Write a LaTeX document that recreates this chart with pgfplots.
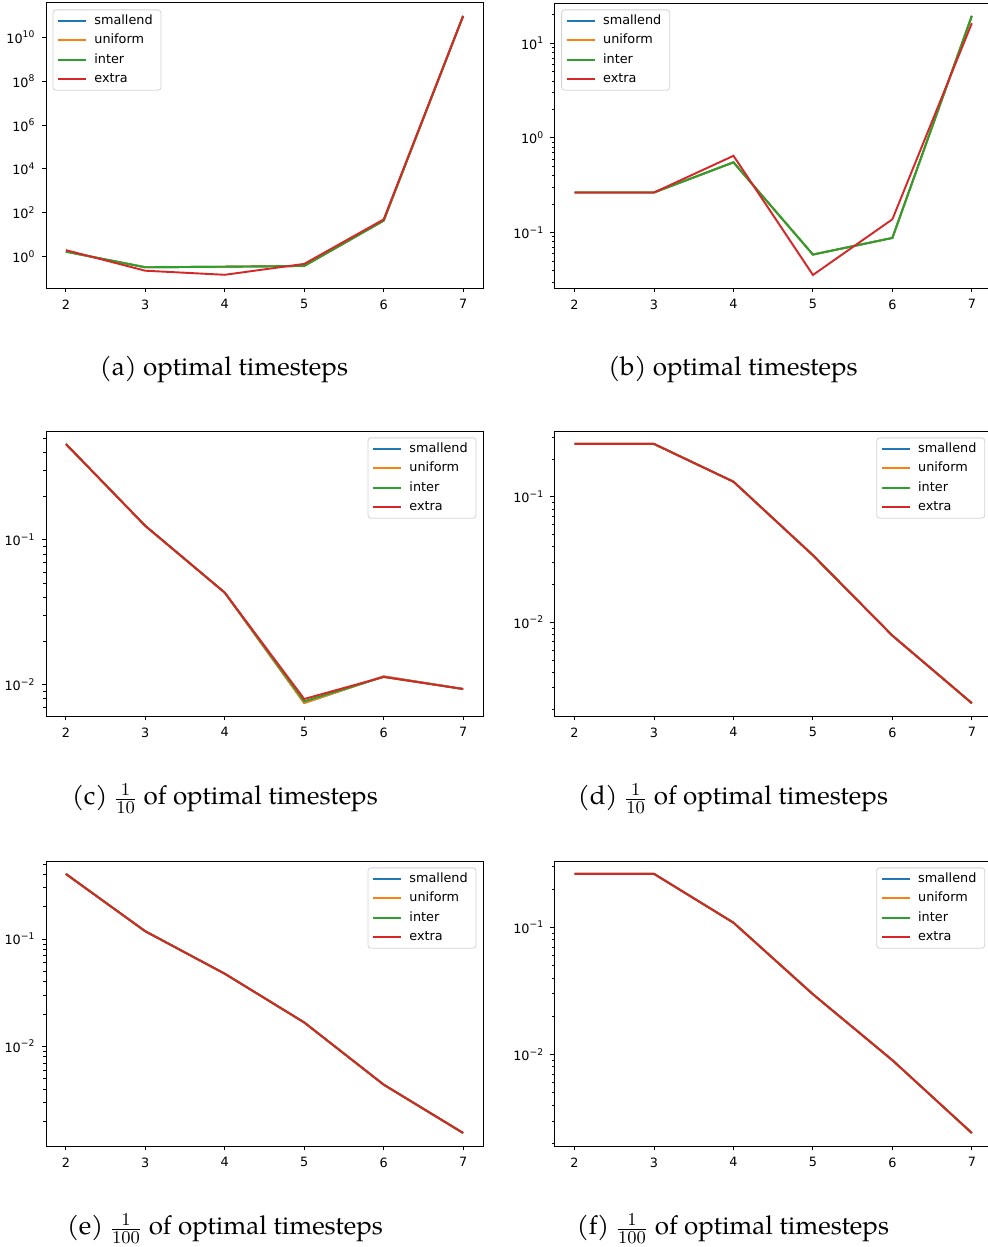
\documentclass[border=0pt]{standalone}
\usepackage{fontspec}
\setmainfont{TeX Gyre Pagella}
\newfontfamily\dejavu{DejaVu Sans}
\usepackage{pgfplots}
\pgfplotsset{compat=1.18}
\pgfkeys{/pgf/number format/assume math mode=true}
\definecolor{c0}{HTML}{1F77B4}
\definecolor{c1}{HTML}{FF7F0E}
\definecolor{c2}{HTML}{2CA02C}
\definecolor{c3}{HTML}{D62728}
\newcommand\tfont{\dejavu\fontsize{6.4}{7.7}\selectfont}
\newcommand\tp[1]{10\raisebox{2.7pt}{\fontsize{4.6}{5}\selectfont #1}}
\pgfplotsset{
  legend image code/.code={\draw[#1, line width=0.96pt] (0pt,0pt) -- (14pt,0pt); \path (15.6pt,0pt);},
  legUL/.style={legend style={at={(0.0149,0.9772)}, anchor=north west}},
  legUR/.style={legend style={at={(0.9851,0.9772)}, anchor=north east}},
  mpl/.style={
    scale only axis, width=218.5pt, height=142.5pt,
    xmin=1.75, xmax=7.25, xtick={2,3,4,5,6,7},
    tick align=outside, tick pos=left,
    major tick length=2.24pt, minor tick length=1.28pt,
    every major tick/.style={line width=0.51pt, black},
    every minor tick/.style={line width=0.38pt, black},
    axis line style={line width=0.48pt},
    tick label style={font=\tfont},
    legend cell align=left,
    legend style={font=\tfont, draw=black!17, rounded corners=1.5pt,
      fill=white, fill opacity=0.8, text opacity=1, draw opacity=1,
      inner xsep=2pt, inner ysep=1.5pt, row sep=1.45pt,
      nodes={inner xsep=2.2pt, inner ysep=1pt, text height=4.9pt, text depth=1.3pt}},
    every axis plot/.append style={line width=0.96pt},
  }
}
\begin{document}
\begin{tikzpicture}
\useasboundingbox (0,0) rectangle (494pt,623.5pt);
\clip (0,0) rectangle (494pt,623.5pt);
% (a)
\begin{axis}[ymode=log, mpl, legUL, at={(23pt,479.5pt)}, anchor=south west,
  ymin=0.0376, ymax=3.63e11,
  ytick={1,1e2,1e4,1e6,1e8,1e10}, minor ytick={},
  yticklabels={\tp{0},\tp{2},\tp{4},\tp{6},\tp{8},\tp{10}}]
\addplot[c0] coordinates {(2,1.7)(3,0.33)(4,0.35)(5,0.38)(6,44)(7,9.3e10)};
\addplot[c1] coordinates {(2,1.7)(3,0.33)(4,0.35)(5,0.38)(6,44)(7,9.3e10)};
\addplot[c2] coordinates {(2,1.7)(3,0.33)(4,0.35)(5,0.38)(6,44)(7,9.3e10)};
\addplot[c3] coordinates {(2,2.0)(3,0.23)(4,0.15)(5,0.47)(6,50)(7,9.3e10)};
\legend{smallend,uniform,inter,extra}
\end{axis}
% (b)
\begin{axis}[ymode=log, mpl, legUL, at={(277.35pt,479.5pt)}, anchor=south west,
  ymin=0.02594, ymax=26.67,
  ytick={0.1,1,10}, yticklabels={\tp{−1},\tp{0},\tp{1}},
  minor ytick={0.03,0.04,0.05,0.06,0.07,0.08,0.09,0.2,0.3,0.4,0.5,0.6,0.7,0.8,0.9,2,3,4,5,6,7,8,9,20}]
\addplot[c0] coordinates {(2,0.265)(3,0.265)(4,0.552)(5,0.0585)(6,0.0877)(7,19.5)};
\addplot[c1] coordinates {(2,0.265)(3,0.265)(4,0.552)(5,0.0585)(6,0.0877)(7,19.5)};
\addplot[c2] coordinates {(2,0.265)(3,0.265)(4,0.552)(5,0.0585)(6,0.0877)(7,19.5)};
\addplot[c3] coordinates {(2,0.265)(3,0.265)(4,0.647)(5,0.0356)(6,0.138)(7,16.3)};
\legend{smallend,uniform,inter,extra}
\end{axis}
% (c)
\begin{axis}[ymode=log, mpl, legUR, at={(23pt,265.5pt)}, anchor=south west,
  ymin=0.006072, ymax=0.5656,
  ytick={0.01,0.1}, yticklabels={\tp{−2},\tp{−1}},
  minor ytick={0.007,0.008,0.009,0.02,0.03,0.04,0.05,0.06,0.07,0.08,0.09,0.2,0.3,0.4,0.5}]
\addplot[c0] coordinates {(2,0.46)(3,0.125)(4,0.0432)(5,0.00747)(6,0.0114)(7,0.00933)};
\addplot[c1] coordinates {(2,0.46)(3,0.125)(4,0.0432)(5,0.00747)(6,0.0114)(7,0.00933)};
\addplot[c2] coordinates {(2,0.46)(3,0.125)(4,0.0432)(5,0.00767)(6,0.0113)(7,0.00933)};
\addplot[c3] coordinates {(2,0.46)(3,0.125)(4,0.0432)(5,0.00796)(6,0.0113)(7,0.00933)};
\legend{smallend,uniform,inter,extra}
\end{axis}
% (d)
\begin{axis}[ymode=log, mpl, legUR, at={(277.35pt,265.5pt)}, anchor=south west,
  ymin=0.001786, ymax=0.335,
  ytick={0.01,0.1}, yticklabels={\tp{−2},\tp{−1}},
  minor ytick={0.002,0.003,0.004,0.005,0.006,0.007,0.008,0.009,0.02,0.03,0.04,0.05,0.06,0.07,0.08,0.09,0.2,0.3}]
\addplot[c0] coordinates {(2,0.264)(3,0.264)(4,0.132)(5,0.0342)(6,0.00782)(7,0.00226)};
\addplot[c1] coordinates {(2,0.264)(3,0.264)(4,0.132)(5,0.0342)(6,0.00782)(7,0.00226)};
\addplot[c2] coordinates {(2,0.264)(3,0.264)(4,0.132)(5,0.0342)(6,0.00782)(7,0.00226)};
\addplot[c3] coordinates {(2,0.264)(3,0.264)(4,0.132)(5,0.0342)(6,0.00782)(7,0.00226)};
\legend{smallend,uniform,inter,extra}
\end{axis}
% (e)
\begin{axis}[ymode=log, mpl, legUR, at={(23pt,50.5pt)}, anchor=south west,
  ymin=0.00118, ymax=0.533,
  ytick={0.01,0.1}, yticklabels={\tp{−2},\tp{−1}},
  minor ytick={0.002,0.003,0.004,0.005,0.006,0.007,0.008,0.009,0.02,0.03,0.04,0.05,0.06,0.07,0.08,0.09,0.2,0.3,0.4,0.5}]
\addplot[c0] coordinates {(2,0.404)(3,0.118)(4,0.0475)(5,0.0167)(6,0.0044)(7,0.00156)};
\addplot[c1] coordinates {(2,0.404)(3,0.118)(4,0.0475)(5,0.0167)(6,0.0044)(7,0.00156)};
\addplot[c2] coordinates {(2,0.404)(3,0.118)(4,0.0475)(5,0.0167)(6,0.0044)(7,0.00156)};
\addplot[c3] coordinates {(2,0.404)(3,0.118)(4,0.0475)(5,0.0167)(6,0.0044)(7,0.00156)};
\legend{smallend,uniform,inter,extra}
\end{axis}
% (f)
\begin{axis}[ymode=log, mpl, legUR, at={(277.35pt,50.5pt)}, anchor=south west,
  ymin=0.001905, ymax=0.3334,
  ytick={0.01,0.1}, yticklabels={\tp{−2},\tp{−1}},
  minor ytick={0.002,0.003,0.004,0.005,0.006,0.007,0.008,0.009,0.02,0.03,0.04,0.05,0.06,0.07,0.08,0.09,0.2,0.3}]
\addplot[c0] coordinates {(2,0.264)(3,0.264)(4,0.109)(5,0.0298)(6,0.00902)(7,0.00241)};
\addplot[c1] coordinates {(2,0.264)(3,0.264)(4,0.109)(5,0.0298)(6,0.00902)(7,0.00241)};
\addplot[c2] coordinates {(2,0.264)(3,0.264)(4,0.109)(5,0.0298)(6,0.00902)(7,0.00241)};
\addplot[c3] coordinates {(2,0.264)(3,0.264)(4,0.109)(5,0.0298)(6,0.00902)(7,0.00241)};
\legend{smallend,uniform,inter,extra}
\end{axis}
% captions
\node[anchor=base, font=\fontsize{13}{15}\selectfont] at (112pt,435.8pt) {(a) optimal timesteps};
\node[anchor=base, font=\fontsize{13}{15}\selectfont] at (366.5pt,435.8pt) {(b) optimal timesteps};
\node[anchor=base, font=\fontsize{13}{15}\selectfont] at (112.5pt,221pt) {(c) \(\frac{1}{10}\) of optimal timesteps};
\node[anchor=base, font=\fontsize{13}{15}\selectfont] at (366.5pt,221pt) {(d) \(\frac{1}{10}\) of optimal timesteps};
\node[anchor=base, font=\fontsize{13}{15}\selectfont] at (112.5pt,6pt) {(e) \(\frac{1}{100}\) of optimal timesteps};
\node[anchor=base, font=\fontsize{13}{15}\selectfont] at (366.5pt,6pt) {(f) \(\frac{1}{100}\) of optimal timesteps};
\end{tikzpicture}
\end{document}
